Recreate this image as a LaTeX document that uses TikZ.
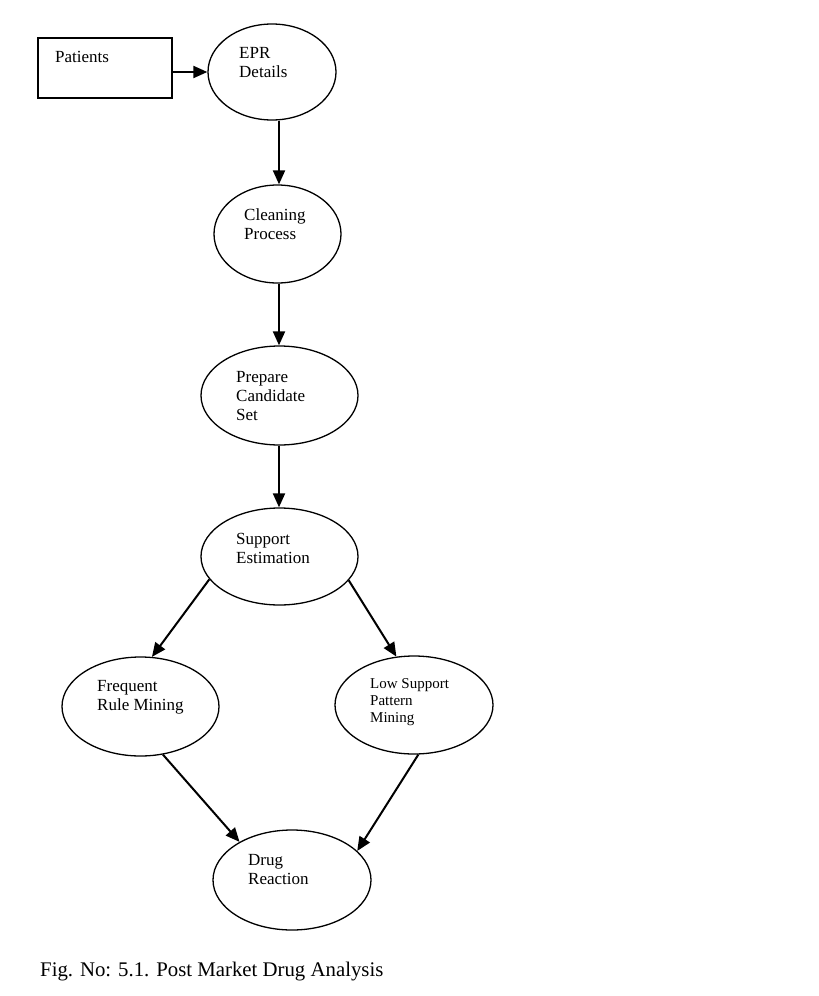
\documentclass[tikz,border=0pt]{standalone}
\usepackage{fontspec}
\setmainfont{Liberation Serif}
\usetikzlibrary{shapes.geometric,arrows.meta}
\begin{document}
\begin{tikzpicture}[x=1pt,y=-1pt,
  ell/.style={draw,ellipse,line width=1.3pt,inner sep=0pt},
  lbl/.style={anchor=west,align=left,inner sep=0pt,font=\fontsize{17}{19}\selectfont},
  arr/.style={line width=2pt,-{Triangle[length=14pt,width=12pt]}}]
\useasboundingbox (0,0) rectangle (819,996);
% nodes
\node[draw,line width=2pt,minimum width=134pt,minimum height=60pt,inner sep=0pt] (pat) at (105,68) {};
\node[lbl,anchor=west] (patt) at (55,57) {Patients};
\node[ell,minimum width=128pt,minimum height=96pt] (epr) at (272,72) {};
\node[lbl] (eprt) at (239,62.5) {EPR\\Details};
\node[ell,minimum width=127pt,minimum height=98pt] (cln) at (277.5,234) {};
\node[lbl] (clnt) at (244,224.5) {Cleaning\\Process};
\node[ell,minimum width=157pt,minimum height=99pt] (prep) at (279.5,395.5) {};
\node[lbl] (prept) at (236,396) {Prepare\\Candidate\\Set};
\node[ell,minimum width=157pt,minimum height=97pt] (sup) at (279.5,556.5) {};
\node[lbl] (supt) at (236,548) {Support\\Estimation};
\node[ell,minimum width=157pt,minimum height=99pt] (freq) at (140.5,706.5) {};
\node[lbl] (freqt) at (97,697) {Frequent\\Rule Mining};
\node[ell,minimum width=158pt,minimum height=98pt] (low) at (414,705) {};
\node[lbl,font=\fontsize{15}{17}\selectfont] (lowt) at (370,702.5) {Low Support\\Pattern\\Mining};
\node[ell,minimum width=158pt,minimum height=100pt] (drug) at (292,880) {};
\node[lbl] (drugt) at (248,869.5) {Drug\\Reaction};
\node[anchor=west,inner sep=0pt,font=\fontsize{20.8}{23}\selectfont] (cap) at (40,972) {Fig. No: 5.1. Post Market Drug Analysis};
% connectors
\draw[arr] (pat.east |- epr.west) -- (epr.west);
\draw[arr] (epr.south -| 279,0) -- (cln.north -| 279,0);
\draw[arr] (cln.south -| 279,0) -- (prep.north -| 279,0);
\draw[arr] (prep.south -| 279,0) -- (sup.north -| 279,0);
\draw[arr] (sup.-162) -- (freq.77);
\draw[arr] (sup.-19) -- (low.110);
\draw[arr] (freq.-65) -- (drug.144);
\draw[arr] (low.-85) -- (drug.24);
\end{tikzpicture}
\end{document}
